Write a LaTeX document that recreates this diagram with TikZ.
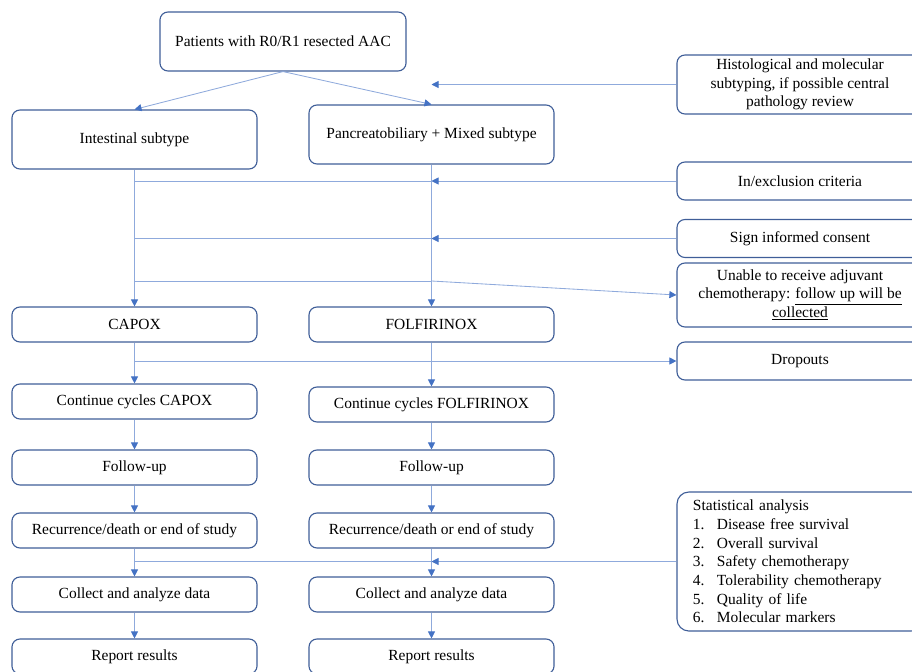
\documentclass[tikz,border=0pt]{standalone}
\usepackage{fontspec}
\setmainfont{Liberation Serif}
\usetikzlibrary{arrows.meta}
\definecolor{boxblue}{HTML}{3F5E98}
\definecolor{lineblue}{HTML}{8FAADC}
\definecolor{tipblue}{HTML}{4472C4}

\begin{document}
\begin{tikzpicture}[x=0.025cm, y=-0.025cm,
  box/.style={draw=boxblue, line width=0.8pt, rounded corners=0.2cm, align=center,
    minimum width=6.125cm, minimum height=0.875cm, inner sep=2pt,
    font=\fontsize{11}{13.3}\selectfont},
  side/.style={box, minimum width=6.15cm},
  ln/.style={draw=lineblue, line width=0.6pt},
  arr/.style={ln, -{Triangle[length=5pt, width=5pt, color=tipblue]}}]
\useasboundingbox (0,0) rectangle (912,671);

% main flow
\node[box, minimum width=6.15cm, minimum height=1.475cm] (pat) at (283,41.5)
{Patients with R0/R1 resected AAC};

\node[box, minimum height=1.475cm] (int) at (134.5,139.5) {Intestinal subtype};
\node[box, minimum height=1.475cm] (pan) at (431.5,134.5) {Pancreatobiliary + Mixed subtype};

\node[box] (capox) at (134.5,324.5) {CAPOX};
\node[box] (folf) at (431.5,324.5) {FOLFIRINOX};

\node[box] (ccapox) at (134.5,401.5) {Continue cycles CAPOX};
\node[box] (cfolf) at (431.5,404.5) {Continue cycles FOLFIRINOX};

\node[box] (fuL) at (134.5,467.5) {Follow-up};
\node[box] (fuR) at (431.5,467.5) {Follow-up};

\node[box] (recL) at (134.5,530.5) {Recurrence/death or end of study};
\node[box] (recR) at (431.5,530.5) {Recurrence/death or end of study};

\node[box] (colL) at (134.5,594.5) {Collect and analyze data};
\node[box] (colR) at (431.5,594.5) {Collect and analyze data};

\node[box] (repL) at (134.5,656.5) {Report results};
\node[box] (repR) at (431.5,656.5) {Report results};

% side boxes
\node[side, minimum height=1.475cm] (hist) at (800,84.5)
{Histological and molecular\\subtyping, if possible central\\pathology review};
\node[side, minimum height=0.95cm] (incl) at (800,181) {In/exclusion criteria};
\node[side, minimum height=0.95cm] (cons) at (800,238.5) {Sign informed consent};
\node[side, minimum height=1.6cm] (unable) at (800,295)
{Unable to receive adjuvant\\chemotherapy: \underline{follow up will be}\\\underline{collected}};
\node[side, minimum height=0.95cm] (drop) at (800,361) {Dropouts};
\node[side, rounded corners=0.3cm, minimum height=3.475cm, align=left,
  text width=5.35cm, inner xsep=0.4cm] (stats) at (800,561.5)
{Statistical analysis\\
\makebox[0.6cm][l]{1.}Disease free survival\\
\makebox[0.6cm][l]{2.}Overall survival\\
\makebox[0.6cm][l]{3.}Safety chemotherapy\\
\makebox[0.6cm][l]{4.}Tolerability chemotherapy\\
\makebox[0.6cm][l]{5.}Quality of life\\
\makebox[0.6cm][l]{6.}Molecular markers};

\coordinate (uL) at (134.5,281);
\coordinate (uR) at (431.5,281);

% connectors
\draw[arr] (pat.south) -- (int.north);
\draw[arr] (pat.south) -- (pan.north);
\draw[arr] (int.south) -- (capox.north);
\draw[arr] (pan.south) -- (folf.north);
\draw[arr] (capox.south) -- (ccapox.north);
\draw[arr] (folf.south) -- (cfolf.north);
\draw[arr] (ccapox.south) -- (fuL.north);
\draw[arr] (cfolf.south) -- (fuR.north);
\draw[arr] (fuL.south) -- (recL.north);
\draw[arr] (fuR.south) -- (recR.north);
\draw[arr] (recL.south) -- (colL.north);
\draw[arr] (recR.south) -- (colR.north);
\draw[arr] (colL.south) -- (repL.north);
\draw[arr] (colR.south) -- (repR.north);

\draw[arr] (hist.west) -- (hist.west -| pan.south);
\draw[ln] (incl.west -| int.south) -- (incl.west -| pan.south);
\draw[arr] (incl.west) -- (incl.west -| pan.south);
\draw[ln] (cons.west -| int.south) -- (cons.west -| pan.south);
\draw[arr] (cons.west) -- (cons.west -| pan.south);
\draw[ln] (uL) -- (uR);
\draw[arr] (uR) -- (unable.west);
\draw[arr] (drop.west -| int.south) -- (drop.west);
\draw[ln] (stats.west -| int.south) -- (stats.west -| pan.south);
\draw[arr] (stats.west) -- (stats.west -| pan.south);
\end{tikzpicture}
\end{document}
